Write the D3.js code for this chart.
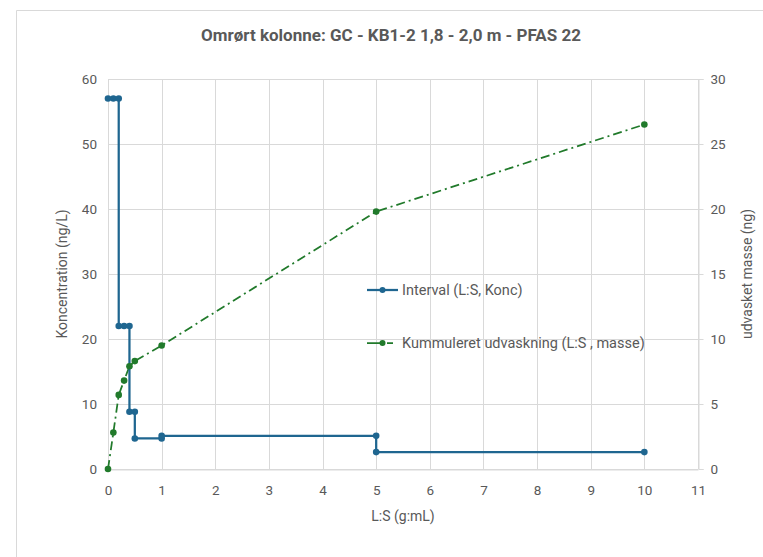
<!DOCTYPE html>
<html>
<head>
<meta charset="utf-8">
<script src="https://cdn.jsdelivr.net/npm/d3@7"></script>
<style>
  body { margin: 0; background: #fff; }
  text { font-family: Roboto, "Open Sans", sans-serif; fill: #595959; }
</style>
</head>
<body>
<div id="chart"></div>
<script>
// data
var intervalLS   = [0, 0.1, 0.2, 0.2, 0.3, 0.4, 0.4, 0.5, 0.5, 1, 1, 5, 5, 10];
var intervalKonc = [57, 57, 57, 22, 22, 22, 8.8, 8.8, 4.7, 4.7, 5.1, 5.1, 2.6, 2.6];

var kumLS    = [0, 0.1, 0.2, 0.3, 0.4, 0.5, 1, 5, 10];
var kumMasse = [0, 2.8, 5.7, 6.8, 7.9, 8.3, 9.5, 19.8, 26.5];

var xTicks = [0, 1, 2, 3, 4, 5, 6, 7, 8, 9, 10, 11];
var yLeftTicks = [0, 10, 20, 30, 40, 50, 60];
var yRightTicks = [0, 5, 10, 15, 20, 25, 30];

var legendLabels = ["Interval (L:S, Konc)", "Kummuleret udvaskning (L:S , masse)"];

var blue = "#1f6690", green = "#217a2b", grid = "#d9d9d9";

(function() {
  var width = 763, height = 557;
  var margin = { top: 79, left: 108, right: 65, bottom: 88 };

  var svg = d3.select("#chart").append("svg")
    .attr("width", width)
    .attr("height", height);

  // chart frame
  svg.append("path")
    .attr("d", "M16.5," + height + "V10.5H" + width)
    .attr("fill", "none")
    .attr("stroke", grid);

  var x = d3.scaleLinear().domain([0, 11]).range([margin.left, width - margin.right]);
  var yL = d3.scaleLinear().domain([0, 60]).range([height - margin.bottom, margin.top]);
  var yR = d3.scaleLinear().domain([0, 30]).range([height - margin.bottom, margin.top]);

  // gridlines
  svg.append("g").selectAll("line.h")
    .data(yLeftTicks)
    .enter().append("line")
    .attr("x1", x(0)).attr("x2", x(11))
    .attr("y1", function(d) { return Math.round(yL(d)) + 0.5; })
    .attr("y2", function(d) { return Math.round(yL(d)) + 0.5; })
    .attr("stroke", grid);

  svg.append("g").selectAll("line.v")
    .data(xTicks)
    .enter().append("line")
    .attr("x1", function(d) { return Math.round(x(d)) + 0.5; })
    .attr("x2", function(d) { return Math.round(x(d)) + 0.5; })
    .attr("y1", yL(0)).attr("y2", yL(60))
    .attr("stroke", grid);

  // x axis
  var xAxis = svg.append("g")
    .attr("transform", "translate(0," + (Math.round(yL(0)) + 0.5) + ")")
    .call(d3.axisBottom(x).tickValues(xTicks).tickSize(0).tickPadding(16));
  xAxis.select(".domain").attr("stroke", grid);
  xAxis.selectAll("text").style("font-size", "13.5px");

  // left axis
  var yAxisL = svg.append("g")
    .attr("transform", "translate(" + (x(0) - 3) + ",0)")
    .call(d3.axisLeft(yL).tickValues(yLeftTicks).tickSize(0).tickPadding(8));
  yAxisL.select(".domain").remove();
  yAxisL.selectAll("text").style("font-size", "13.5px");

  // right axis
  var yAxisR = svg.append("g")
    .attr("transform", "translate(" + (Math.round(x(11)) + 0.5) + ",0)")
    .call(d3.axisRight(yR).tickValues(yRightTicks).tickSize(5).tickSizeOuter(5).tickPadding(7));
  yAxisR.selectAll(".domain, line").attr("stroke", grid);
  yAxisR.selectAll("text").style("font-size", "13.5px");

  // titles
  svg.append("text")
    .attr("x", 391).attr("y", 41)
    .attr("text-anchor", "middle")
    .style("font-size", "17px").style("font-weight", "bold")
    .text("Omrørt kolonne: GC - KB1-2 1,8 - 2,0 m - PFAS 22");

  svg.append("text")
    .attr("x", (x(0) + x(11)) / 2).attr("y", 521)
    .attr("text-anchor", "middle")
    .style("font-size", "14px")
    .text("L:S (g:mL)");

  svg.append("text")
    .attr("transform", "translate(67," + yL(30) + ") rotate(-90)")
    .attr("text-anchor", "middle")
    .style("font-size", "14px")
    .text("Koncentration (ng/L)");

  svg.append("text")
    .attr("transform", "translate(752," + yL(30) + ") rotate(-90)")
    .attr("text-anchor", "middle")
    .style("font-size", "14px")
    .text("udvasket masse (ng)");

  // series
  var interval = intervalLS.map(function(d, i) { return { x: d, y: intervalKonc[i] }; });
  var kum = kumLS.map(function(d, i) { return { x: d, y: kumMasse[i] }; });

  svg.append("path")
    .datum(kum)
    .attr("fill", "none")
    .attr("stroke", green)
    .attr("stroke-width", 1.75)
    .attr("stroke-dasharray", "9,4,2,4")
    .attr("d", d3.line().x(function(d) { return x(d.x); }).y(function(d) { return yR(d.y); }));

  svg.append("path")
    .datum(interval)
    .attr("fill", "none")
    .attr("stroke", blue)
    .attr("stroke-width", 2.25)
    .attr("d", d3.line().x(function(d) { return x(d.x); }).y(function(d) { return yL(d.y); }));

  svg.append("g").selectAll("circle")
    .data(kum)
    .enter().append("circle")
    .attr("cx", function(d) { return x(d.x); })
    .attr("cy", function(d) { return yR(d.y); })
    .attr("r", 3.3)
    .attr("fill", green);

  svg.append("g").selectAll("circle")
    .data(interval)
    .enter().append("circle")
    .attr("cx", function(d) { return x(d.x); })
    .attr("cy", function(d) { return yL(d.y); })
    .attr("r", 3.3)
    .attr("fill", blue);

  // legend
  var legend = svg.append("g").selectAll("g")
    .data(legendLabels)
    .enter().append("g")
    .attr("transform", function(d, i) { return "translate(367," + (290 + i * 53) + ")"; });

  legend.append("line")
    .attr("x1", 0).attr("x2", 31)
    .attr("stroke", function(d, i) { return i === 0 ? blue : green; })
    .attr("stroke-width", function(d, i) { return i === 0 ? 2.25 : 1.75; })
    .attr("stroke-dasharray", function(d, i) { return i === 0 ? null : "15,5,6,5"; });

  legend.append("circle")
    .attr("cx", 15.5).attr("r", 3)
    .attr("fill", function(d, i) { return i === 0 ? blue : green; });

  legend.append("text")
    .attr("x", 35).attr("y", 5)
    .style("font-size", "14.5px")
    .text(function(d) { return d; });
})();
</script>
</body>
</html>
